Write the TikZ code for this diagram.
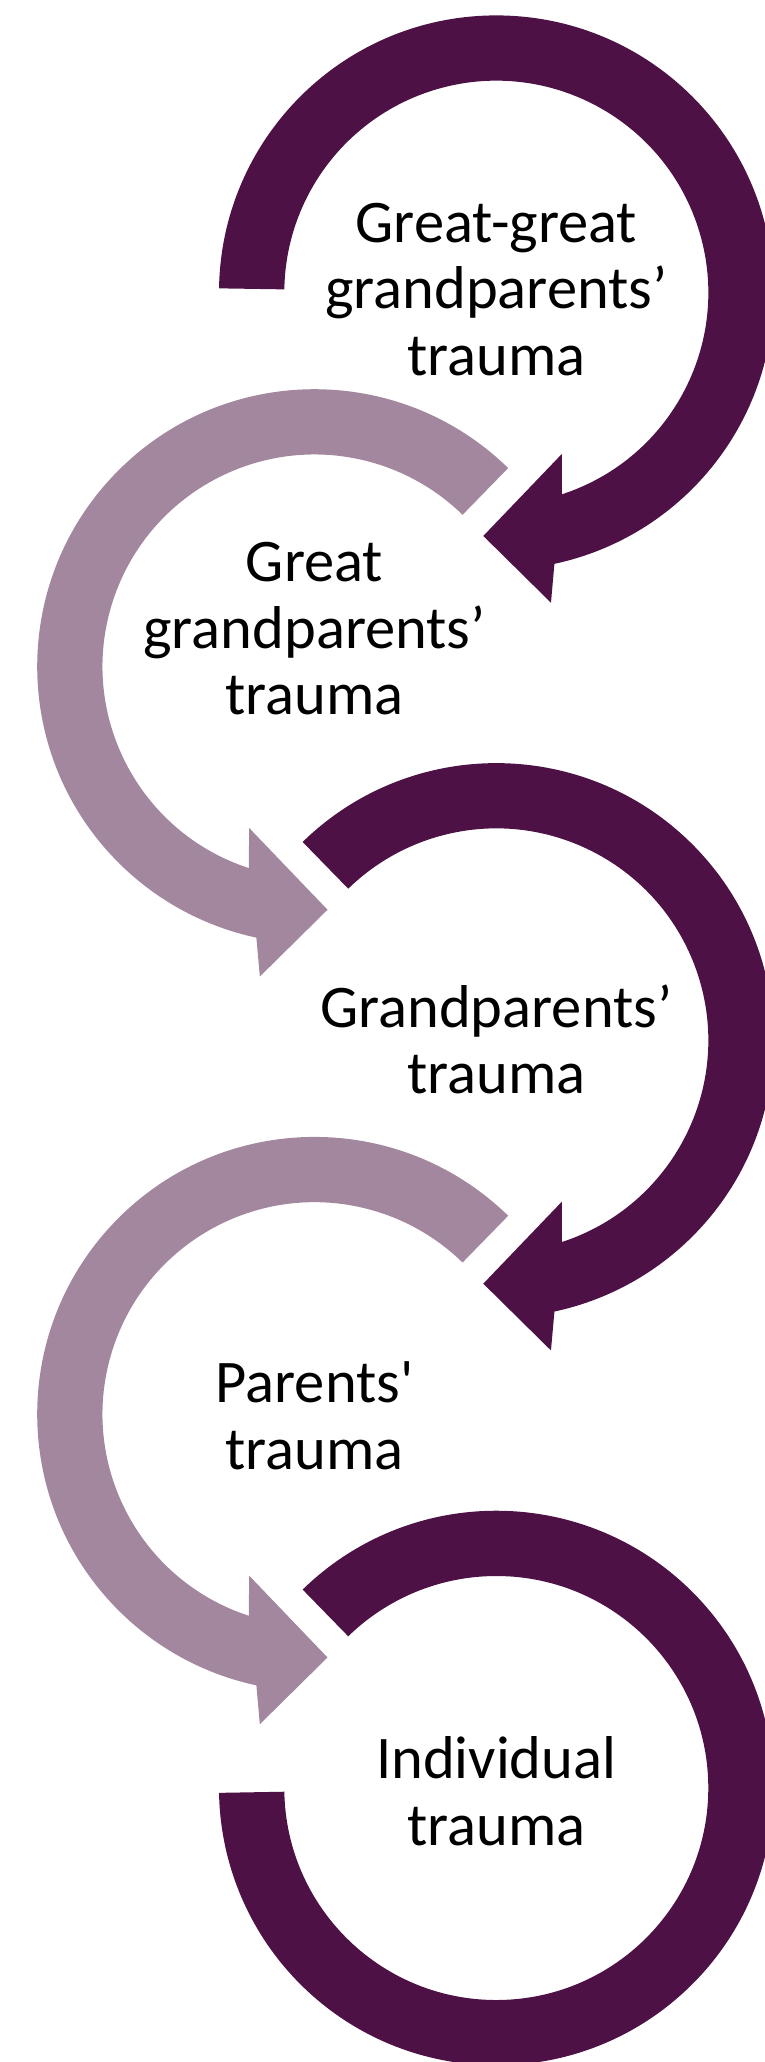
\documentclass[tikz,border=0pt]{standalone}
\usepackage{fontspec}
\setmainfont{Carlito}[Ligatures=TeXOff]
\definecolor{plumdark}{RGB}{77,17,69}
\definecolor{plumlight}{RGB}{162,135,158}
\newcommand\ringout{277.3pt}
\newcommand\ringin{212pt}
\tikzset{
  darkloop/.style={fill=plumdark},
  lightloop/.style={fill=plumlight},
  caption/.style={align=center, inner sep=0pt, text=black,
    font=\fontsize{60.5}{66.6}\selectfont},
}
\begin{document}
\begin{tikzpicture}[x=1pt, y=1pt]
\useasboundingbox (0,0) rectangle (765,-2062);
\clip (0,0) rectangle (765,-2062);

% first loop: clockwise, from the left cut round to the head at the bottom
\fill[darkloop, shift={(496.3,-292.7)}]
  (179.1:\ringout) arc[start angle=179.1, end angle=-77.9, radius=\ringout]
  -- (-80:314.8pt) -- (-93.06:243.6pt) -- (-67.9:174.1pt)
  -- (-72:\ringin) arc[start angle=-72, end angle=179.1, radius=\ringin] -- cycle;

% second loop: counter-clockwise
\fill[lightloop, shift={(314.5,-666.5)}]
  (45.7:\ringout) arc[start angle=45.7, end angle=257.9, radius=\ringout]
  -- (260:314.8pt) -- (273.06:243.6pt) -- (247.9:174.1pt)
  -- (252:\ringin) arc[start angle=252, end angle=45.7, radius=\ringin] -- cycle;

% third loop: clockwise
\fill[darkloop, shift={(496.3,-1040.4)}]
  (134.3:\ringout) arc[start angle=134.3, end angle=-77.9, radius=\ringout]
  -- (-80:314.8pt) -- (-93.06:243.6pt) -- (-67.9:174.1pt)
  -- (-72:\ringin) arc[start angle=-72, end angle=134.3, radius=\ringin] -- cycle;

% fourth loop: counter-clockwise
\fill[lightloop, shift={(314.5,-1414.2)}]
  (45.7:\ringout) arc[start angle=45.7, end angle=257.9, radius=\ringout]
  -- (260:314.8pt) -- (273.06:243.6pt) -- (247.9:174.1pt)
  -- (252:\ringin) arc[start angle=252, end angle=45.7, radius=\ringin] -- cycle;

% last loop: clockwise, no head, ends in a flat cut on the left
\fill[darkloop, shift={(496.3,-1788)}]
  (134.3:\ringout) arc[start angle=134.3, end angle=-179, radius=\ringout]
  -- (-179:\ringin) arc[start angle=-179, end angle=134.3, radius=\ringin] -- cycle;

% labels
\node[caption] (gen1) at (496.3,-289.4) {Great-great\\grandparents’\\trauma};
\node[caption] (gen2) at (314.5,-628.9) {Great\\grandparents’\\trauma};
\node[caption] (gen3) at (496.3,-1039.4) {Grandparents’\\trauma};
\node[caption] (gen4) at (314.5,-1415.8) {Parents'\\trauma};
\node[caption] (gen5) at (496.3,-1791.2) {Individual\\trauma};
\end{tikzpicture}
\end{document}
